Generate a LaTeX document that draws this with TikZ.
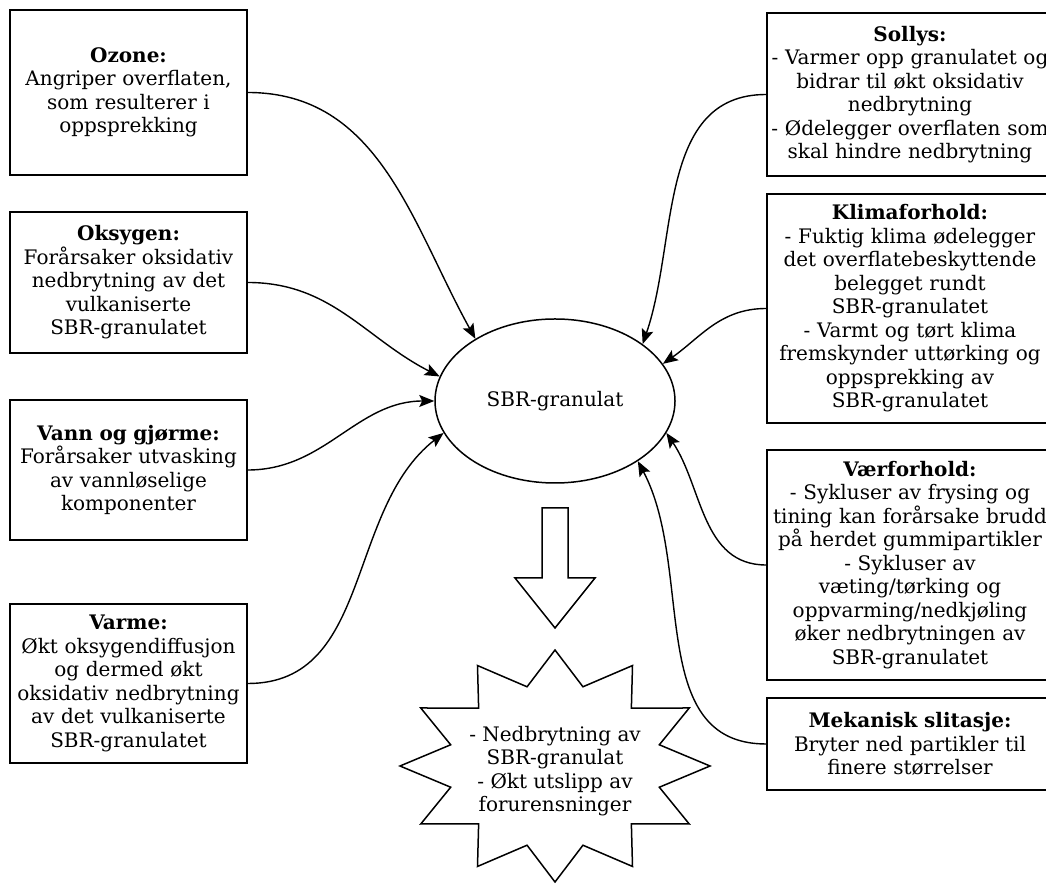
\documentclass[tikz,border=0pt]{standalone}
\usepackage{fontspec}
\setmainfont{DejaVu Serif}
\usetikzlibrary{arrows.meta,shapes.geometric}
\begin{document}
\begin{tikzpicture}[x=1pt,y=1pt,
  txt/.style={font=\fontsize{20}{23.5}\selectfont, align=center},
  box/.style={txt, draw=black, line width=1.7pt, fill=white, inner xsep=0pt, inner ysep=0pt},
  lbox/.style={box, text width=237pt, minimum height=#1},
  rbox/.style={box, text width=286pt, minimum height=#1},
  conn/.style={draw=black, line width=1.4pt, -{Stealth[length=15pt,width=12pt,inset=3pt]}},
  shapeline/.style={draw=black, line width=1.5pt, fill=white}]
\useasboundingbox (0,0) rectangle (1046,883);
\clip (0,0) rectangle (1046,883);
\fill[white] (0,0) rectangle (1046,883);

% left boxes
\node[lbox=165pt] (ozone) at (128.5,790.5) {\textbf{Ozone:}\\Angriper overflaten,\\som resulterer i\\oppsprekking};
\node[lbox=141pt] (oksygen) at (128.5,600.5) {\textbf{Oksygen:}\\Forårsaker oksidativ\\nedbrytning av det\\vulkaniserte\\SBR-granulatet};
\node[lbox=140pt] (vann) at (128.5,413) {\textbf{Vann og gjørme:}\\Forårsaker utvasking\\av vannløselige\\komponenter};
\node[lbox=159pt] (varme) at (128.5,199.5) {\textbf{Varme:}\\Økt oksygendiffusjon\\og dermed økt\\oksidativ nedbrytning\\av det vulkaniserte\\SBR-granulatet};

% right boxes
\node[rbox=163pt] (sollys) at (910,788.5) {\textbf{Sollys:}\\- Varmer opp granulatet og\\bidrar til økt oksidativ\\nedbrytning\\- Ødelegger overflaten som\\skal hindre nedbrytning};
\node[rbox=229pt] (klima) at (910,574.5) {\textbf{Klimaforhold:}\\- Fuktig klima ødelegger\\det overflatebeskyttende\\belegget rundt\\SBR-granulatet\\- Varmt og tørt klima\\fremskynder uttørking og\\oppsprekking av\\SBR-granulatet};
\node[rbox=230pt] (vaer) at (910,318) {\textbf{Værforhold:}\\- Sykluser av frysing og\\tining kan forårsake brudd\\på herdet gummipartikler\\- Sykluser av\\væting/tørking og\\oppvarming/nedkjøling\\øker nedbrytningen av\\SBR-granulatet};
\node[rbox=92pt] (mek) at (910,139) {\textbf{Mekanisk slitasje:}\\Bryter ned partikler til\\finere størrelser};

% centre ellipse
\node[txt, ellipse, shapeline, minimum width=240pt, minimum height=164pt, inner sep=0pt] (sbr) at (555,482) {SBR-granulat};

% hollow arrow
\draw[shapeline] (542,375) -- (568,375) -- (568,305) -- (595,305) -- (555,255) -- (515,305) -- (542,305) -- cycle;

% star
\draw[shapeline, shift={(555,117)}] (0:155pt and 116pt)
  \foreach \a in {0,30,...,330} { -- ({\a+15}:108pt and 82pt) -- ({\a+30}:155pt and 116pt) } -- cycle;
\node[txt] (result) at (555,112) {- Nedbrytning av\\SBR-granulat\\- Økt utslipp av\\forurensninger};

% connectors
\draw[conn] (ozone.east) to[out=0, in=119] (sbr.142);
\draw[conn] (oksygen.east) to[out=0, in=153] (sbr.168);
\draw[conn] (vann.east) to[out=0, in=180] (sbr.west);
\draw[conn] (varme.east) to[out=0, in=218] (sbr.196);
\draw[conn] (sollys.west) to[out=180, in=71] (sbr.33);
\draw[conn] (klima.west) to[out=180, in=35] (sbr.19);
\draw[conn] (vaer.west) to[out=180, in=-56] (sbr.-16);
\draw[conn] (mek.west) to[out=180, in=-62] (sbr.-36);
\end{tikzpicture}
\end{document}
